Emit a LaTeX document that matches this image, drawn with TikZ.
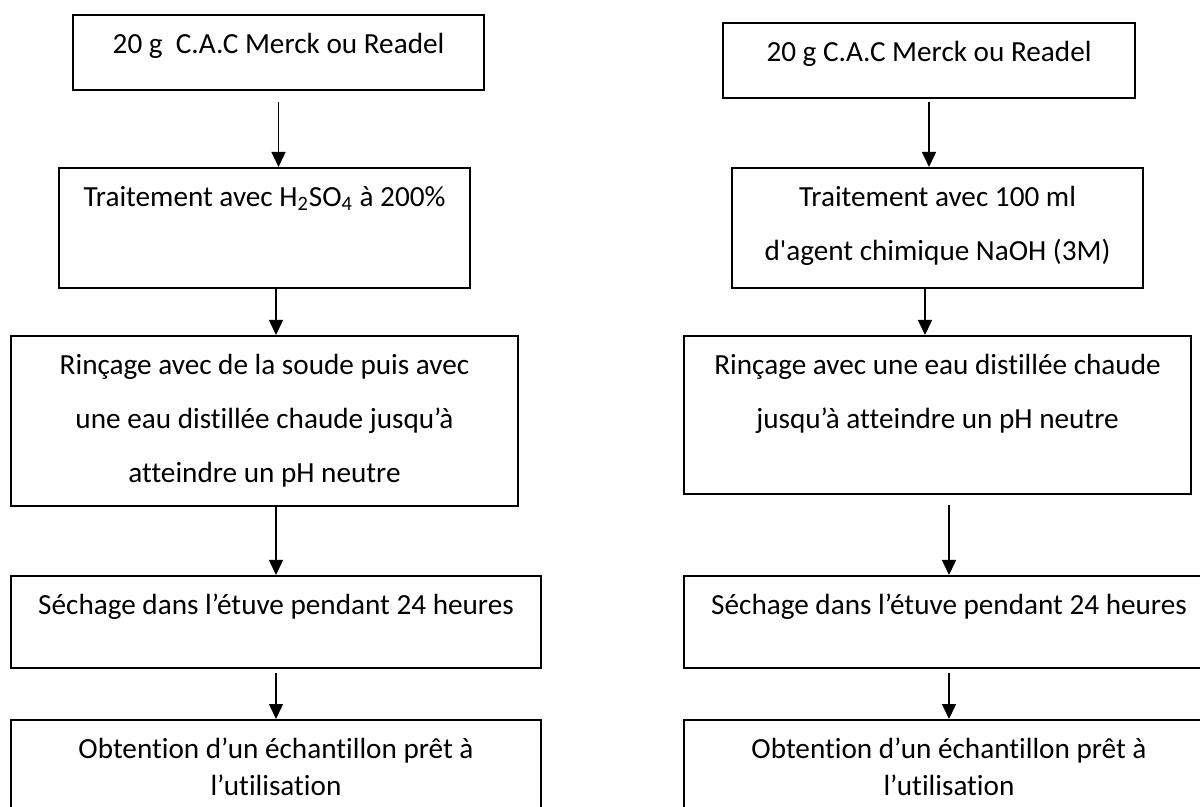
\documentclass[tikz,border=0pt]{standalone}
\usepackage{fontspec}
\setmainfont{Carlito}[Ligatures={TeX,NoCommon}]
\usetikzlibrary{arrows.meta}
\newcommand\mystrut{\rule{0pt}{12pt}}
\tikzset{
  box/.style={draw=black, line width=1pt, rectangle, inner sep=0pt, anchor=north west},
  txt/.style={anchor=north, align=center, inner sep=0pt, font=\fontsize{14.6}{27}\selectfont},
  txts/.style={txt, font=\fontsize{14.6}{18.5}\selectfont},
  arr/.style={line width=0.75pt, -{Triangle[length=7.5pt,width=7pt]}},
}
\begin{document}
\begin{tikzpicture}[x=0.5pt,y=-0.5pt]
\useasboundingbox (0,0) rectangle (1200,807);
\clip (0,0) rectangle (1200,807);
% left column
\node[box, minimum width=205.5pt, minimum height=37.5pt] (l1) at (72,14) {};
\node[box, minimum width=205.5pt, minimum height=60pt] (l2) at (58,167) {};
\node[box, minimum width=253.5pt, minimum height=85pt] (l3) at (10,335) {};
\node[box, minimum width=265pt, minimum height=46pt] (l4) at (10,575) {};
\node[box, minimum width=265pt, minimum height=60pt] (l5) at (10,719) {};
\node[txt] (tl1) at ([yshift=-7.5pt]l1.north) {\mystrut 20 g\ \ C.A.C Merck ou Readel};
\node[txt] (tl2) at ([yshift=-7.5pt]l2.north) {\mystrut Traitement avec H\textsubscript{2}SO\textsubscript{4} à 200\%};
\node[txt] (tl3) at ([yshift=-7.5pt]l3.north) {\mystrut Rinçage avec de la soude puis avec\\une eau distillée chaude jusqu’à\\atteindre un pH neutre};
\node[txt] (tl4) at ([yshift=-7.5pt]l4.north) {\mystrut Séchage dans l’étuve pendant 24 heures};
\node[txts] (tl5) at ([yshift=-7.5pt]l5.north) {\mystrut Obtention d’un échantillon prêt à\\l’utilisation};
% right column
\node[box, minimum width=206pt, minimum height=37.5pt] (r1) at (722,22) {};
\node[box, minimum width=205.5pt, minimum height=60pt] (r2) at (731,167) {};
\node[box, minimum width=253.5pt, minimum height=79pt] (r3) at (683,335) {};
\node[box, minimum width=265pt, minimum height=46pt] (r4) at (683,575) {};
\node[box, minimum width=265pt, minimum height=60pt] (r5) at (683,719) {};
\node[txt] (tr1) at ([yshift=-7.5pt]r1.north) {\mystrut 20 g C.A.C Merck ou Readel};
\node[txt] (tr2) at ([yshift=-7.5pt]r2.north) {\mystrut Traitement avec 100 ml\\d\textquotesingle agent chimique NaOH (3M)};
\node[txt] (tr3) at ([yshift=-7.5pt]r3.north) {\mystrut Rinçage avec une eau distillée chaude\\jusqu’à atteindre un pH neutre};
\node[txt] (tr4) at ([yshift=-7.5pt]r4.north) {\mystrut Séchage dans l’étuve pendant 24 heures};
\node[txts] (tr5) at ([yshift=-7.5pt]r5.north) {\mystrut Obtention d’un échantillon prêt à\\l’utilisation};
% left arrows
\draw[arr] ([yshift=-5.5pt]l1.south) -- (l1.south |- l2.north);
\draw[arr] (l2.south -| l4.north) -- (l3.north -| l4.north);
\draw[arr] (l3.south -| l4.north) -- (l4.north);
\draw[arr] ([yshift=-2pt]l4.south) -- (l5.north);
% right arrows
\draw[arr] ([yshift=-1.5pt]r1.south) -- (r1.south |- r2.north);
\draw[arr] ([xshift=-6.25pt]r2.south) -- ([xshift=-6.25pt]r2.south |- r3.north);
\draw[arr] ([yshift=-5pt]r3.south -| r4.north) -- (r4.north);
\draw[arr] ([yshift=-2pt]r4.south) -- (r5.north);
\end{tikzpicture}
\end{document}
